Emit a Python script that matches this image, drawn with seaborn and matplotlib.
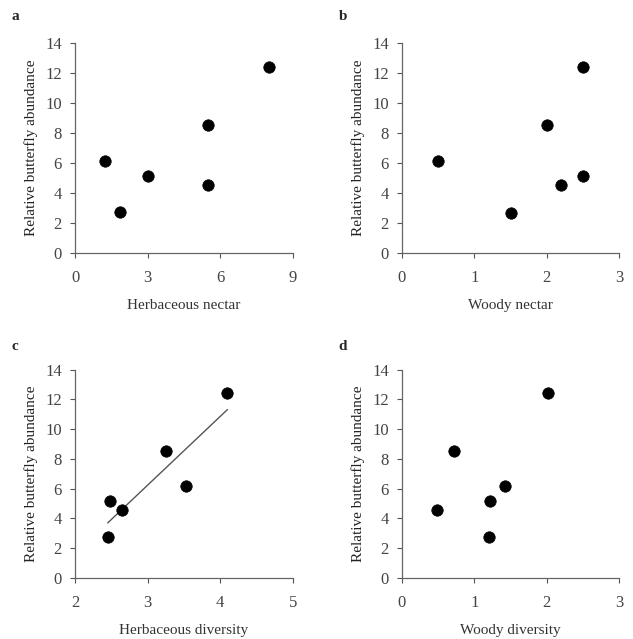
import numpy as np
import pandas as pd
import matplotlib.pyplot as plt
import seaborn as sns

# relative butterfly abundance per site (shared y values)
abundance = [6.15, 2.75, 5.15, 8.55, 4.55, 12.4]

herb_nectar = [1.25, 1.85, 3.0, 5.5, 5.5, 8.0]
woody_nectar_y = [6.15, 2.65, 8.55, 4.55, 5.1, 12.4]
woody_nectar = [0.5, 1.5, 2.0, 2.2, 2.5, 2.5]
herb_div = [3.53, 2.45, 2.48, 3.25, 2.65, 4.1]
woody_div = [1.43, 1.2, 1.22, 0.72, 0.48, 2.02]

panels = [
    ("a", "Herbaceous nectar", herb_nectar, abundance, (0, 9), [0, 3, 6, 9], False),
    ("b", "Woody nectar", woody_nectar, woody_nectar_y, (0, 3), [0, 1, 2, 3], False),
    ("c", "Herbaceous diversity", herb_div, abundance, (2, 5), [2, 3, 4, 5], True),
    ("d", "Woody diversity", woody_div, abundance, (0, 3), [0, 1, 2, 3], False),
]

sns.set_style("ticks")
plt.rcParams["font.family"] = ["Liberation Serif", "DejaVu Serif"]

fig = plt.figure(figsize=(6.33, 6.39), dpi=100)
positions = [
    [0.1185, 0.604, 0.344, 0.329],
    [0.635, 0.604, 0.343, 0.329],
    [0.1185, 0.0955, 0.344, 0.326],
    [0.635, 0.0955, 0.343, 0.326],
]
# panel letter positions (figure pixels from top-left)
tag_xy = [(15, 17), (343, 17), (15, 346), (343, 346)]

for pos, txy, (tag, xlabel, xs, ys, xlim, xticks, fit) in zip(positions, tag_xy, panels):
    ax = fig.add_axes(pos)
    df = pd.DataFrame({"x": xs, "y": ys})
    sns.scatterplot(data=df, x="x", y="y", ax=ax, s=68, color="black",
                    edgecolor="black", linewidth=0.5, zorder=3)
    if fit:
        sns.regplot(data=df, x="x", y="y", ax=ax, ci=None, scatter=False,
                    truncate=True, line_kws={"color": "#555555", "lw": 1.0})
    ax.set_xlim(*xlim)
    ax.set_ylim(0, 14)
    ax.set_xticks(xticks)
    ax.set_yticks(np.arange(0, 15, 2))
    ax.set_xlabel(xlabel, fontsize=11, color="#333333", labelpad=9)
    ax.set_ylabel("Relative butterfly abundance", fontsize=11, color="#222222", labelpad=5)
    ax.tick_params(axis="both", labelsize=12, colors="#555555", labelcolor="#444444",
                   length=3.5, width=0.8, direction="out", pad=6)
    ax.tick_params(axis="x", pad=9)
    sns.despine(ax=ax)
    for sp in ["left", "bottom"]:
        ax.spines[sp].set_color("#666666")
        ax.spines[sp].set_linewidth(0.9)
    fig.text(txy[0] / 633, 1 - txy[1] / 639, tag, fontsize=11,
             fontweight="bold", ha="center", va="center")

fig.savefig("out.png", dpi=100)
